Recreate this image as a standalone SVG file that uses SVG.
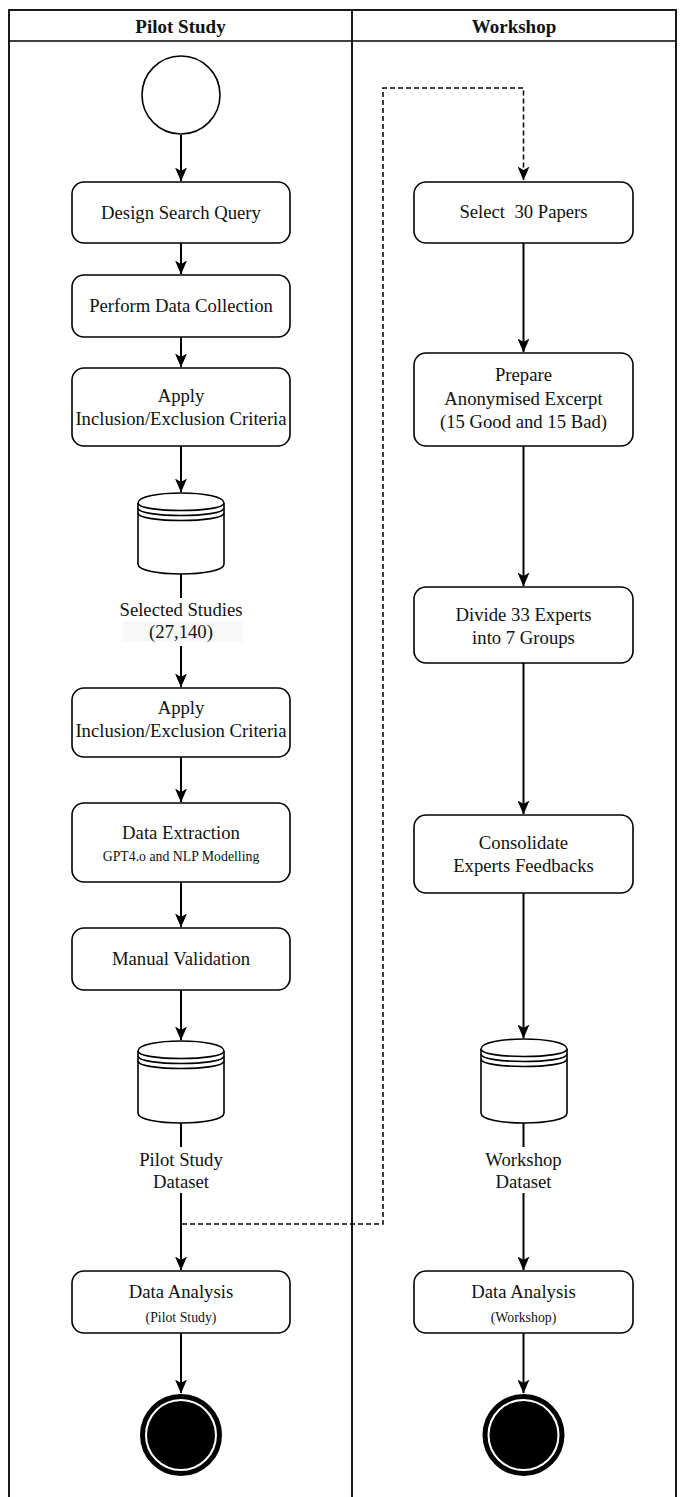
<svg xmlns="http://www.w3.org/2000/svg" width="684" height="1497" viewBox="0 0 684 1497">
<style>
.t{font-family:"Liberation Serif","Times New Roman",serif;font-size:18.7px;fill:#111;text-anchor:middle}
.s{font-size:13.8px}
.h{font-weight:bold;font-size:19px}
.box{fill:#fff;stroke:#000;stroke-width:1.6}
.ln{fill:none;stroke:#000;stroke-width:2}
.dash{fill:none;stroke:#000;stroke-width:1.5;stroke-dasharray:5 3}
.cyl{fill:#fff;stroke:#000;stroke-width:1.6}
</style>
<defs>
<marker id="arr" viewBox="0 0 14 12" refX="13.5" refY="6" markerWidth="14" markerHeight="12" markerUnits="userSpaceOnUse" orient="auto">
<path d="M14,6 L0,0 L3.5,6 L0,12 Z" fill="#000"/>
</marker>
</defs>
<rect width="684" height="1497" fill="#fff"/>
<g id="pool">
<rect x="9" y="10" width="667" height="1500" fill="none" stroke="#000" stroke-width="1.8"/>
<line x1="9" y1="41" x2="676" y2="41" stroke="#000" stroke-width="1.6"/>
<line x1="352" y1="10" x2="352" y2="1497" stroke="#000" stroke-width="1.8"/>
<text class="t h" x="180.5" y="32.5">Pilot Study</text>
<text class="t h" x="514" y="32.5">Workshop</text>
</g>
<g id="connectors">
<line class="ln" x1="181" y1="135" x2="181" y2="181" marker-end="url(#arr)"/>
<line class="ln" x1="181" y1="243" x2="181" y2="274" marker-end="url(#arr)"/>
<line class="ln" x1="181" y1="337" x2="181" y2="367" marker-end="url(#arr)"/>
<line class="ln" x1="181" y1="446" x2="181" y2="492" marker-end="url(#arr)"/>
<line class="ln" x1="181" y1="574" x2="181" y2="598"/>
<line class="ln" x1="181" y1="646" x2="181" y2="687" marker-end="url(#arr)"/>
<line class="ln" x1="181" y1="757" x2="181" y2="802" marker-end="url(#arr)"/>
<line class="ln" x1="181" y1="882" x2="181" y2="927" marker-end="url(#arr)"/>
<line class="ln" x1="181" y1="990" x2="181" y2="1040" marker-end="url(#arr)"/>
<line class="ln" x1="181" y1="1123" x2="181" y2="1147"/>
<line class="ln" x1="181" y1="1193" x2="181" y2="1270" marker-end="url(#arr)"/>
<line class="ln" x1="181" y1="1333" x2="181" y2="1393" marker-end="url(#arr)"/>
<path class="dash" d="M182,1224 H383 V88 H523.5 V180" marker-end="url(#arr)"/>
<line class="ln" x1="523.5" y1="243" x2="523.5" y2="352" marker-end="url(#arr)"/>
<line class="ln" x1="523.5" y1="446" x2="523.5" y2="586" marker-end="url(#arr)"/>
<line class="ln" x1="523.5" y1="663" x2="523.5" y2="814" marker-end="url(#arr)"/>
<line class="ln" x1="523.5" y1="893" x2="523.5" y2="1038" marker-end="url(#arr)"/>
<line class="ln" x1="523.5" y1="1123" x2="523.5" y2="1147"/>
<line class="ln" x1="523.5" y1="1193" x2="523.5" y2="1270" marker-end="url(#arr)"/>
<line class="ln" x1="523.5" y1="1333" x2="523.5" y2="1393" marker-end="url(#arr)"/>
</g>
<g id="start">
<circle cx="181" cy="95" r="39" fill="#fff" stroke="#000" stroke-width="1.6"/>
</g>
<g id="design">
<rect class="box" x="72" y="182" width="218" height="61" rx="12"/>
<text class="t" x="181" y="219">Design Search Query</text>
</g>
<g id="perform">
<rect class="box" x="72" y="275" width="218" height="62" rx="12"/>
<text class="t" x="181" y="312">Perform Data Collection</text>
</g>
<g id="apply1">
<rect class="box" x="72" y="368" width="218" height="78" rx="12"/>
<text class="t" x="181" y="402">Apply</text>
<text class="t" x="181" y="425">Inclusion/Exclusion Criteria</text>
</g>
<g id="selected">
<path class="cyl" d="M138,503 C138,489.7 224,489.7 224,503 L224,564 C224,577.3 138,577.3 138,564 Z"/>
<path class="cyl" fill="none" d="M138,503 C138,513 224,513 224,503 M138,508 C138,518 224,518 224,508 M138,513 C138,523 224,523 224,513"/>
<rect x="122" y="621" width="121" height="21" fill="#f8f8f8"/>
<text class="t" x="181" y="616">Selected Studies</text>
<text class="t" x="181" y="638">(27,140)</text>
</g>
<g id="apply2">
<rect class="box" x="72" y="688" width="218" height="69" rx="12"/>
<text class="t" x="181" y="714">Apply</text>
<text class="t" x="181" y="737">Inclusion/Exclusion Criteria</text>
</g>
<g id="extraction">
<rect class="box" x="72" y="803" width="218" height="79" rx="12"/>
<text class="t" x="181" y="839">Data Extraction</text>
<text class="t s" x="181" y="861">GPT4.o and NLP Modelling</text>
</g>
<g id="validation">
<rect class="box" x="72" y="928" width="218" height="62" rx="12"/>
<text class="t" x="181" y="965">Manual Validation</text>
</g>
<g id="pilotdata">
<path class="cyl" d="M138,1051 C138,1037.7 224,1037.7 224,1051 L224,1113 C224,1126.3 138,1126.3 138,1113 Z"/>
<path class="cyl" fill="none" d="M138,1051 C138,1061 224,1061 224,1051 M138,1056 C138,1066 224,1066 224,1056 M138,1061 C138,1071 224,1071 224,1061"/>
<text class="t" x="181" y="1166">Pilot Study</text>
<text class="t" x="181" y="1188">Dataset</text>
</g>
<g id="analysis1">
<rect class="box" x="72" y="1271" width="218" height="62" rx="12"/>
<text class="t" x="181" y="1298">Data Analysis</text>
<text class="t s" x="181" y="1322">(Pilot Study)</text>
</g>
<g id="end1">
<circle cx="181" cy="1435" r="38.5" fill="#fff" stroke="#000" stroke-width="5"/>
<circle cx="181" cy="1435" r="34" fill="#000"/>
</g>
<g id="select">
<rect class="box" x="414" y="182" width="219" height="61" rx="12"/>
<text class="t" x="523.5" y="218" xml:space="preserve">Select  30 Papers</text>
</g>
<g id="prepare">
<rect class="box" x="414" y="353" width="219" height="93" rx="12"/>
<text class="t" x="523.5" y="381">Prepare</text>
<text class="t" x="523.5" y="404.5">Anonymised Excerpt</text>
<text class="t" x="523.5" y="428">(15 Good and 15 Bad)</text>
</g>
<g id="divide">
<rect class="box" x="414" y="587" width="219" height="76" rx="12"/>
<text class="t" x="523.5" y="621">Divide 33 Experts</text>
<text class="t" x="523.5" y="644">into 7 Groups</text>
</g>
<g id="consolidate">
<rect class="box" x="414" y="815" width="219" height="78" rx="12"/>
<text class="t" x="523.5" y="849">Consolidate</text>
<text class="t" x="523.5" y="872">Experts Feedbacks</text>
</g>
<g id="workshopdata">
<path class="cyl" d="M481,1049 C481,1035.7 567,1035.7 567,1049 L567,1113 C567,1126.3 481,1126.3 481,1113 Z"/>
<path class="cyl" fill="none" d="M481,1049 C481,1059 567,1059 567,1049 M481,1054 C481,1064 567,1064 567,1054 M481,1059 C481,1069 567,1069 567,1059"/>
<text class="t" x="523.5" y="1166">Workshop</text>
<text class="t" x="523.5" y="1188">Dataset</text>
</g>
<g id="analysis2">
<rect class="box" x="414" y="1271" width="219" height="62" rx="12"/>
<text class="t" x="523.5" y="1298">Data Analysis</text>
<text class="t s" x="523.5" y="1322">(Workshop)</text>
</g>
<g id="end2">
<circle cx="523.5" cy="1435" r="38.5" fill="#fff" stroke="#000" stroke-width="5"/>
<circle cx="523.5" cy="1435" r="34" fill="#000"/>
</g>
</svg>
